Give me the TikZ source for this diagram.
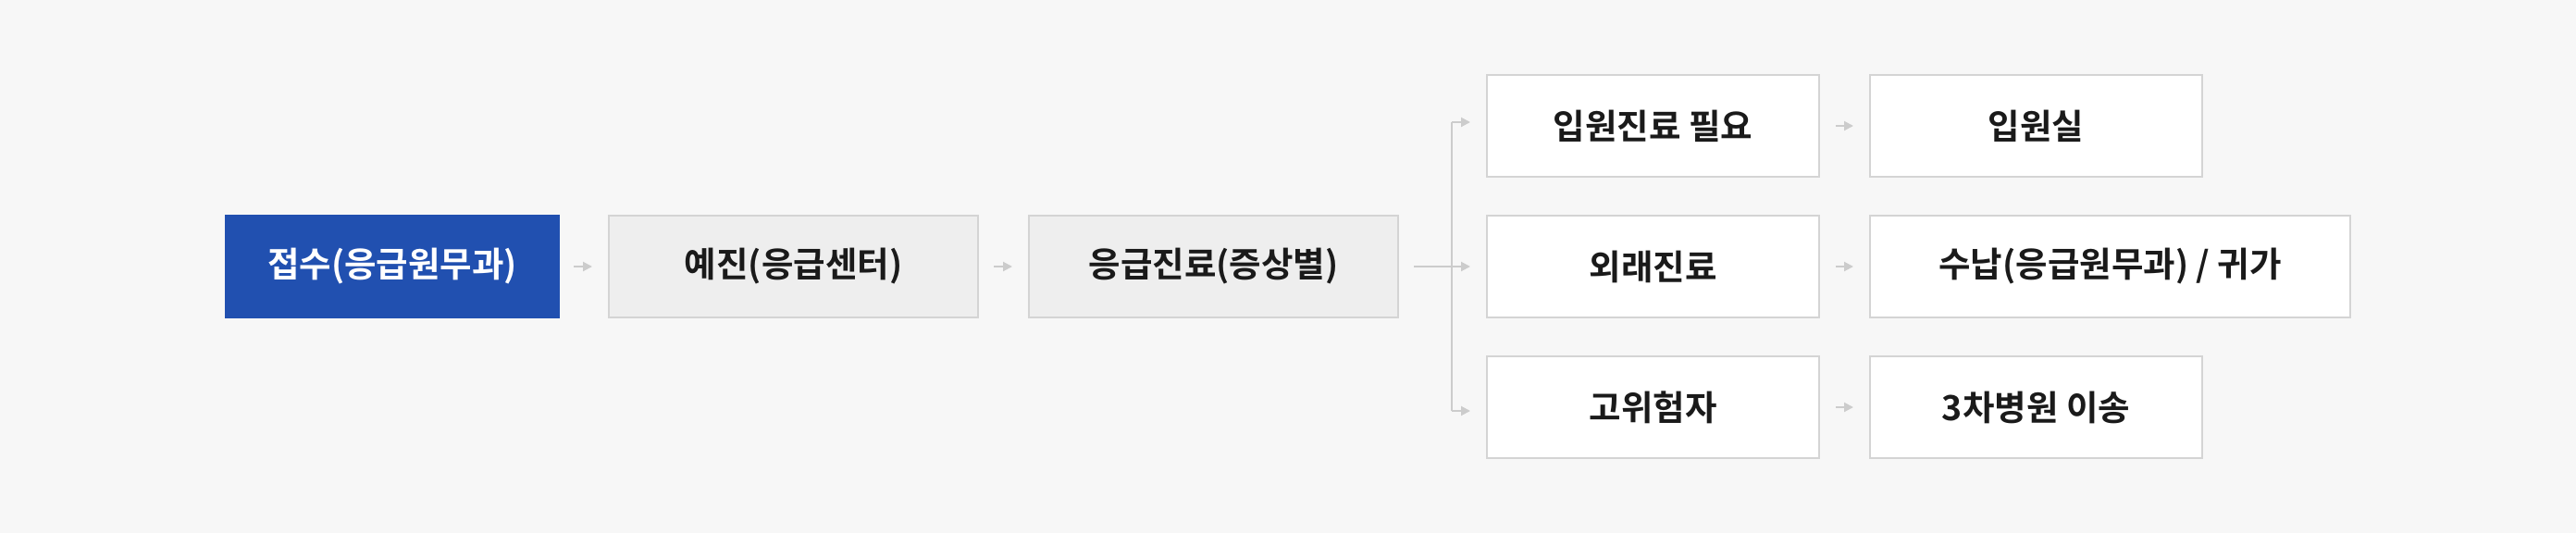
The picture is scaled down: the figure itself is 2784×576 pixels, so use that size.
\documentclass[tikz,border=0pt]{standalone}
\usepackage{fontspec}
\setmainfont{Noto Sans CJK KR Bold}
\usetikzlibrary{arrows.meta}
\definecolor{bgc}{HTML}{F7F7F7}
\definecolor{greyfill}{HTML}{EEEEEE}
\definecolor{boxline}{HTML}{D4D4D4}
\definecolor{bluec}{HTML}{2150B0}
\definecolor{linec}{HTML}{CCCCCC}
\definecolor{txt}{HTML}{1A1A1A}
\tikzset{
  base/.style={rectangle, minimum height=110pt, inner sep=0pt, font=\fontsize{37.5pt}{42pt}\selectfont, text=txt, line width=2pt},
  bluebox/.style={base, fill=bluec, text=white, draw=bluec},
  greybox/.style={base, fill=greyfill, draw=boxline},
  whitebox/.style={base, fill=white, draw=boxline},
  conn/.style={draw=linec, line width=2pt, -{Triangle[length=10pt,width=10pt]}},
  plainconn/.style={draw=linec, line width=2pt}
}
\begin{document}
\begin{tikzpicture}[x=1pt,y=-1pt]
\fill[bgc] (0,0) rectangle (2784,576);
\useasboundingbox (0,0) rectangle (2784,576);

\node[bluebox, minimum width=360pt] (a) at (424,288) {접수(응급원무과)};
\node[greybox, minimum width=399pt] (b) at (857.5,288) {예진(응급센터)};
\node[greybox, minimum width=399pt] (c) at (1311.5,288) {응급진료(증상별)};

\node[whitebox, minimum width=359pt] (d1) at (1786.5,136) {입원진료 필요};
\node[whitebox, minimum width=359pt] (d2) at (1786.5,288) {외래진료};
\node[whitebox, minimum width=359pt] (d3) at (1786.5,440) {고위험자};

\node[whitebox, minimum width=359pt] (e1) at (2200.5,136) {입원실};
\node[whitebox, minimum width=519pt] (e2) at (2280.5,288) {수납(응급원무과) / 귀가};
\node[whitebox, minimum width=359pt] (e3) at (2200.5,440) {3차병원 이송};

\draw[conn] ([xshift=15pt]a.east) -- ([xshift=-17pt]b.west);
\draw[conn] ([xshift=16pt]b.east) -- ([xshift=-17pt]c.west);

\coordinate (br) at (1569,288);
\coordinate (brt) at (1569,132);
\coordinate (brb) at (1569,444);
\draw[plainconn] ([xshift=16pt]c.east) -- (br);
\draw[plainconn] (brt) -- (brb);
\draw[conn] (brt) -- ([xshift=-17pt,yshift=4pt]d1.west);
\draw[conn] (br) -- ([xshift=-17pt]d2.west);
\draw[conn] (brb) -- ([xshift=-17pt,yshift=-4pt]d3.west);

\draw[conn] ([xshift=17pt]d1.east) -- ([xshift=-17pt]e1.west);
\draw[conn] ([xshift=17pt]d2.east) -- ([xshift=-17pt]e2.west);
\draw[conn] ([xshift=17pt]d3.east) -- ([xshift=-17pt]e3.west);
\end{tikzpicture}
\end{document}
